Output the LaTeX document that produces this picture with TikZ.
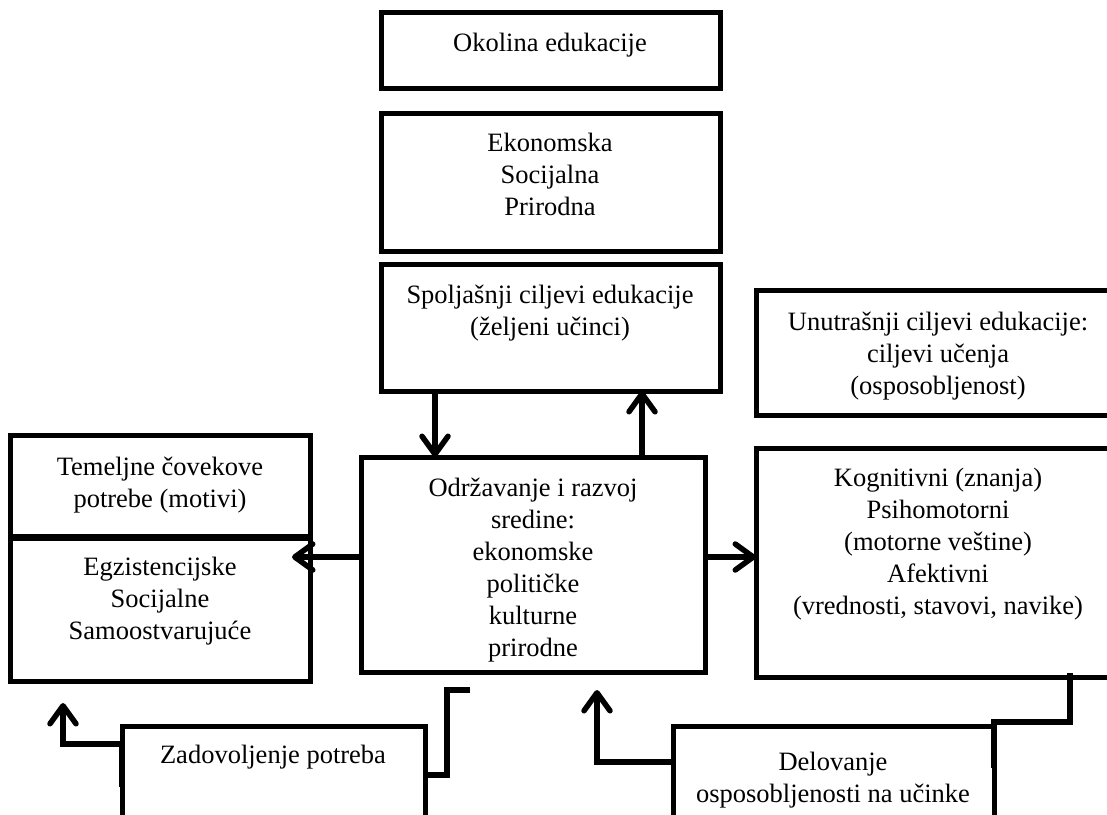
\documentclass[tikz,border=0pt]{standalone}
\usepackage{fontspec}
\setmainfont{Liberation Serif}
\usetikzlibrary{arrows.meta}
\begin{document}
\begin{tikzpicture}[x=1pt,y=-1pt,
  box/.style={draw,line width=5pt,inner sep=0pt,outer sep=0pt,anchor=north west,rectangle},
  txt/.style={anchor=north,align=center,inner sep=0pt,font=\fontsize{26.5}{32}\selectfont},
  conn/.style={line width=5.5pt,line join=miter},
  arr/.style={conn,-{Straight Barb[length=18pt,width=26pt,line cap=round,line join=round]}}]
\useasboundingbox (0,0) rectangle (1107,814);
\clip (0,0) rectangle (1107,814);
% boxes
\node[box,minimum width=339pt,minimum height=76pt]  (okolina) at (381,12) {};
\node[box,minimum width=339pt,minimum height=138pt] (ekon)    at (381,113) {};
\node[box,minimum width=339pt,minimum height=127pt] (spolj)   at (381,264) {};
\node[box,minimum width=366pt,minimum height=125pt] (unut)    at (756,290) {};
\node[box,minimum width=366pt,minimum height=229pt] (kogn)    at (756,448) {};
\node[box,minimum width=344pt,minimum height=215pt] (centar)  at (361,457) {};
\node[box,minimum width=300pt,minimum height=101pt] (teme)    at (10,435) {};
\node[box,minimum width=300pt,minimum height=143pt] (egz)     at (10,538) {};
\node[box,minimum width=303pt,minimum height=110pt] (zad)     at (122,726) {};
\node[box,minimum width=321pt,minimum height=110pt] (delo)    at (673,726) {};
% texts
\node[txt] (okolinaT) at (550,33)  {Okolina edukacije};
\node[txt] (ekonT)    at (550,133) {Ekonomska\\Socijalna\\Prirodna};
\node[txt] (spoljT)   at (550,285) {Spoljašnji ciljevi edukacije\\(željeni učinci)};
\node[txt] (unutT)    at (938,312) {Unutrašnji ciljevi edukacije:\\ciljevi učenja\\(osposobljenost)};
\node[txt] (kognT)    at (938,468) {Kognitivni (znanja)\\Psihomotorni\\(motorne veštine)\\Afektivni\\(vrednosti, stavovi, navike)};
\node[txt] (centarT)  at (533,478) {Održavanje i razvoj\\sredine:\\ekonomske\\političke\\kulturne\\prirodne};
\node[txt] (temeT)    at (160,457) {Temeljne čovekove\\potrebe (motivi)};
\node[txt] (egzT)     at (160,557) {Egzistencijske\\Socijalne\\Samoostvarujuće};
\node[txt] (zadT)     at (273,745) {Zadovoljenje potreba};
\node[txt] (deloT)    at (833,752) {Delovanje\\osposobljenosti na učinke};
% free ends
\coordinate (egzTip) at (292,557);
\coordinate (zadTip) at (63,703);
\coordinate (zadEnd) at (470,690);
\coordinate (deloTip) at (597,690);
% connectors
\draw[arr] (435,0 |- spolj.south) -- (435,0 |- centar.north);
\draw[arr] (642,0 |- centar.north) -- (642,0 |- spolj.south);
\draw[arr] (centar.west |- 0,557) -- (egzTip);
\draw[arr] (centar.east |- 0,557) -- (kogn.west |- 0,557);
\draw[arr] (zad.west |- 0,787) -- (zad.west |- 0,744) -- (zadTip |- 0,744) -- (zadTip);
\draw[conn] (zad.east |- 0,775) -- (447,775) -- (447,0 |- zadEnd) -- (zadEnd);
\draw[arr] (delo.west |- 0,762) -- (deloTip |- 0,762) -- (deloTip);
\draw[conn] (delo.east |- 0,768) -- (delo.east |- 0,722) -- (1070,722) -- ([yshift=4pt]1070,0 |- kogn.south);
\end{tikzpicture}
\end{document}
